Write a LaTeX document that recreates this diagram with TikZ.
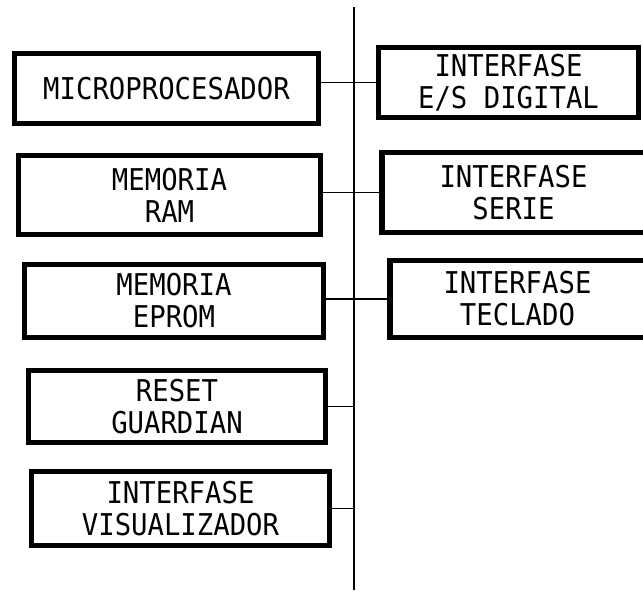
\documentclass[tikz,border=0pt]{standalone}
\usepackage{fontspec}
\newfontfamily\plotfont[FakeStretch=0.91]{DejaVu Sans Mono}

\begin{document}
\begin{tikzpicture}[x=1pt,y=-1pt,
    blk/.style={draw,line width=5.5pt,align=center,inner sep=0pt,
      font=\plotfont\fontsize{30}{32}\selectfont},
    wire/.style={line width=1.8pt}]
  \clip (0,0) rectangle (643,591);
  % left column
  \node[blk,minimum width=304,minimum height=70] (micro) at (166.5,88.5) {MICROPROCESADOR};
  \node[blk,minimum width=302,minimum height=79] (ram) at (169.5,195) {MEMORIA\\RAM};
  \node[blk,minimum width=299,minimum height=73] (eprom) at (174,301) {MEMORIA\\EPROM};
  \node[blk,minimum width=297,minimum height=72] (reset) at (177,406.5) {RESET\\GUARDIAN};
  \node[blk,minimum width=298,minimum height=74] (visual) at (180.5,508.5) {INTERFASE\\VISUALIZADOR};
  % right column
  \node[blk,minimum width=260,minimum height=70] (esdig) at (508.5,82.5) {INTERFASE\\E/S DIGITAL};
  \node[blk,minimum width=263.5,minimum height=80] (serie) at (513.5,192.5) {INTERFASE\\SERIE};
  \node[blk,minimum width=255.5,minimum height=77] (teclado) at (517.5,299) {INTERFASE\\TECLADO};
  % bus
  \coordinate (bustop) at (354,7);
  \coordinate (busbot) at (354,590);
  \draw[wire] (bustop) -- (busbot);
  \draw[wire] (esdig.west -| micro.east) -- (esdig.west);
  \draw[wire] (serie.west -| ram.east) -- (serie.west);
  \draw[wire] (teclado.west -| eprom.east) -- (teclado.west);
  \draw[wire] (reset.east) -- (reset.east -| bustop);
  \draw[wire] (visual.east) -- (visual.east -| bustop);
\end{tikzpicture}
\end{document}
